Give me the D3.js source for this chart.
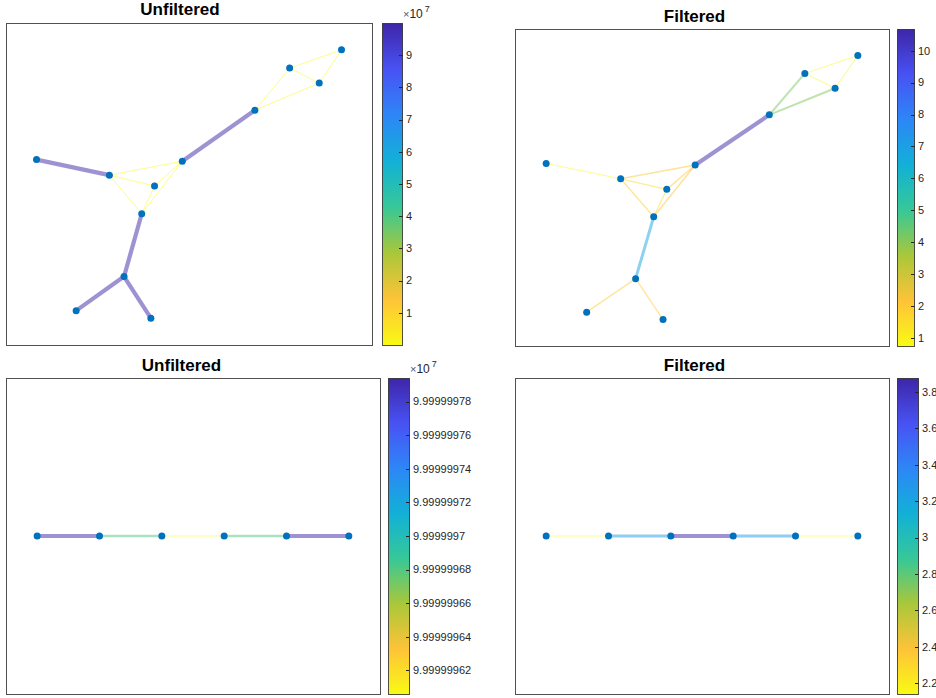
<!DOCTYPE html>
<html><head><meta charset="utf-8">
<script src="https://cdn.jsdelivr.net/npm/d3@7"></script>
<style>
body{margin:0;background:#fff}
svg{display:block}
text{font-family:"Liberation Sans",Arial,Helvetica,sans-serif}
</style>
</head><body>
<svg id="chart" width="936" height="698"></svg>
<script>
// ---------------- data ----------------
// tree-like graph (12 nodes), layout coordinates
const treeNodeX = [0.000, 0.239, 0.387, 0.478, 0.345, 0.287, 0.130, 0.375, 0.716, 0.830, 0.927, 1.000];
const treeNodeY = [0.591, 0.533, 0.493, 0.585, 0.389, 0.155, 0.028, 0.000, 0.775, 0.932, 0.876, 1.000];
const treeEdgeSource = [1, 2, 2, 2, 3, 3, 4, 4, 5, 6, 6, 9, 9, 10, 10, 11];
const treeEdgeTarget = [2, 3, 4, 5, 4, 5, 5, 9, 6, 7, 8, 10, 11, 11, 12, 12];
const treeUnfilteredWeights = [99999997.94, 1, 1, 1, 1, 1, 1, 99999997.94, 99999997.94, 99999997.94, 99999997.94, 1, 1, 1, 1, 1];
const treeFilteredWeights = [0.75, 1.6, 2.0, 1.9, 2.0, 1.5, 2.2, 10.68, 6.9, 1.9, 1.9, 4.2, 4.1, 0.8, 0.8, 0.8];

// path graph (6 nodes)
const pathNodeX = [1, 2, 3, 4, 5, 6];
const pathNodeY = [0, 0, 0, 0, 0, 0];
const pathEdgeSource = [1, 2, 3, 4, 5];
const pathEdgeTarget = [2, 3, 4, 5, 6];
const pathUnfilteredWeights = [99999997.94, 99999996.8, 99999996.06, 99999996.8, 99999997.94];
const pathFilteredWeights = [2.14, 3.27, 3.877, 3.27, 2.14];

const panelTitles = ["Unfiltered", "Filtered", "Unfiltered", "Filtered"];

// parula colormap key colours (low -> high); the chart uses it flipped
const parulaStops = ["#3e26a8", "#4852f4", "#2d87f7", "#11b1d6", "#37c897", "#abc739", "#fec338", "#f9fb14"];

// ---------------- layout ----------------
const panels = [
  {title: panelTitles[0], nx: treeNodeX, ny: treeNodeY, src: treeEdgeSource, tgt: treeEdgeTarget, w: treeUnfilteredWeights,
   ax: {x0: 6, x1: 372, y0: 23, y1: 345}, cb: {x0: 382, x1: 402}, tx: 180, ty: 15},
  {title: panelTitles[1], nx: treeNodeX, ny: treeNodeY, src: treeEdgeSource, tgt: treeEdgeTarget, w: treeFilteredWeights,
   ax: {x0: 515, x1: 889, y0: 29, y1: 346}, cb: {x0: 897, x1: 914}, tx: 694.5, ty: 22},
  {title: panelTitles[2], nx: pathNodeX, ny: pathNodeY, src: pathEdgeSource, tgt: pathEdgeTarget, w: pathUnfilteredWeights,
   ax: {x0: 6, x1: 380, y0: 378, y1: 694}, cb: {x0: 388, x1: 409}, tx: 181.5, ty: 371},
  {title: panelTitles[3], nx: pathNodeX, ny: pathNodeY, src: pathEdgeSource, tgt: pathEdgeTarget, w: pathFilteredWeights,
   ax: {x0: 515, x1: 889, y0: 378, y1: 694}, cb: {x0: 897, x1: 918}, tx: 694.5, ty: 371}
];

const svg = d3.select("#chart");
const defs = svg.append("defs");
const parula = d3.scaleLinear()
  .domain(parulaStops.map((_, i) => i / (parulaStops.length - 1)))
  .range(parulaStops)
  .interpolate(d3.interpolateRgb);
const cmap = t => parula(1 - t); // flipped: high values purple

// gradient for colorbars
const grad = defs.append("linearGradient").attr("id", "cbgrad")
  .attr("x1", 0).attr("y1", 1).attr("x2", 0).attr("y2", 0);
d3.range(0, 1.0001, 0.02).forEach(t => {
  grad.append("stop").attr("offset", t).attr("stop-color", cmap(t));
});

const AX_COL = "#262626";

function padDomain(vals) {
  const [a, b] = d3.extent(vals);
  const span = b - a;
  if (span === 0) return [a - 1, a + 1];
  return [a - 0.1 * span, b + 0.1 * span];
}

panels.forEach((p, pi) => {
  const g = svg.append("g");
  const x = d3.scaleLinear().domain(padDomain(p.nx)).range([p.ax.x0, p.ax.x1]);
  const y = d3.scaleLinear().domain(padDomain(p.ny)).range([p.ax.y1, p.ax.y0]);
  const wExt = d3.extent(p.w);
  const tScale = d3.scaleLinear().domain(wExt).range([0, 1]);
  const widthScale = d3.scaleLinear().domain(wExt).range([1, 4.2]);

  // axes box
  g.append("rect")
    .attr("x", p.ax.x0 + 0.5).attr("y", p.ax.y0 + 0.5)
    .attr("width", p.ax.x1 - p.ax.x0).attr("height", p.ax.y1 - p.ax.y0)
    .attr("fill", "#fff").attr("stroke", AX_COL).attr("stroke-width", 1).attr("stroke-opacity", 0.8);

  // edges
  const edges = p.src.map((s, i) => ({s: s - 1, t: p.tgt[i] - 1, w: p.w[i]}));
  g.append("g").selectAll("line").data(edges).join("line")
    .attr("x1", d => x(p.nx[d.s])).attr("y1", d => y(p.ny[d.s]))
    .attr("x2", d => x(p.nx[d.t])).attr("y2", d => y(p.ny[d.t]))
    .attr("stroke", d => cmap(tScale(d.w)))
    .attr("stroke-opacity", 0.5)
    .attr("stroke-width", d => widthScale(d.w));

  // nodes
  g.append("g").selectAll("circle").data(p.nx.map((v, i) => i)).join("circle")
    .attr("cx", i => x(p.nx[i])).attr("cy", i => y(p.ny[i]))
    .attr("r", 3.5).attr("fill", "#0072BD");

  // title
  g.append("text").attr("x", p.tx).attr("y", p.ty)
    .attr("text-anchor", "middle").attr("font-weight", "bold")
    .attr("font-size", 17).attr("fill", "#000").text(p.title);

  // colorbar
  const cby = d3.scaleLinear().domain(wExt).range([p.ax.y1, p.ax.y0]);
  g.append("rect")
    .attr("x", p.cb.x0 + 0.5).attr("y", p.ax.y0 + 0.5)
    .attr("width", p.cb.x1 - p.cb.x0).attr("height", p.ax.y1 - p.ax.y0)
    .attr("fill", "url(#cbgrad)").attr("stroke", AX_COL).attr("stroke-width", 1).attr("stroke-opacity", 0.8);

  const maxAbs = Math.max(Math.abs(wExt[0]), Math.abs(wExt[1]));
  const expo = Math.floor(Math.log10(maxAbs));
  const useExp = expo >= 4;
  const div = useExp ? Math.pow(10, expo) : 1;
  const ticks = cby.ticks(10);
  const tg = g.append("g");
  tg.selectAll("line").data(ticks).join("line")
    .attr("x1", p.cb.x1 - 3).attr("x2", p.cb.x1 + 0.5)
    .attr("y1", d => Math.round(cby(d)) + 0.5).attr("y2", d => Math.round(cby(d)) + 0.5)
    .attr("stroke", AX_COL).attr("stroke-width", 1);
  tg.selectAll("text").data(ticks).join("text")
    .attr("x", p.cb.x1 + 4).attr("y", d => cby(d)).attr("dy", "0.35em")
    .attr("font-size", 11).attr("fill", AX_COL)
    .text(d => String(+(d / div).toFixed(10)));

  if (useExp) {
    const et = g.append("text").attr("x", p.cb.x1 + 1).attr("y", p.ax.y0 - 5)
      .attr("font-size", 12).attr("fill", "#555");
    et.append("tspan").attr("font-size", 11).text("\u00d7");
    et.append("tspan").attr("fill", AX_COL).text("10");
    et.append("tspan").attr("fill", AX_COL).attr("font-size", 9).attr("dy", -6).attr("dx", 2).text(String(expo));
  }
});
</script>
</body></html>
